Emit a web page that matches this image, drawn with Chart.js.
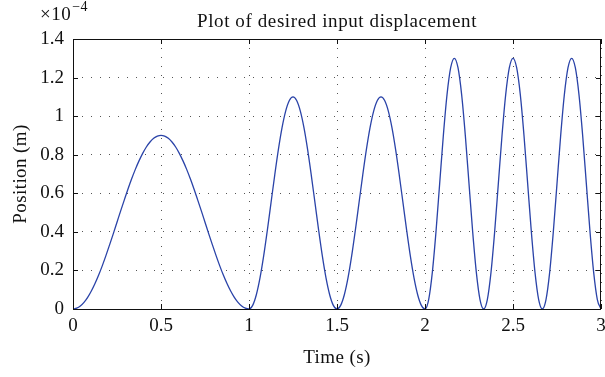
<!DOCTYPE html>
<html>
<head>
<meta charset="utf-8">
<script src="https://cdn.jsdelivr.net/npm/chart.js@4/dist/chart.umd.min.js"></script>
<style>
  html, body { margin: 0; padding: 0; background: #fff; }
  #wrap { width: 605px; height: 377px; position: relative; }
</style>
</head>
<body>
<div id="wrap"><canvas id="c" width="605" height="377"></canvas></div>
<script>
// Desired input displacement, in units of 1e-4 m, sampled every 1/48 s.
// 0–1 s: single hump
const displacementSeg1 = [
  0, 0.004, 0.015, 0.034, 0.060, 0.093, 0.132, 0.176, 0.225, 0.278, 0.334, 0.391,
  0.45, 0.509, 0.566, 0.622, 0.675, 0.724, 0.768, 0.807, 0.840, 0.866, 0.885, 0.896,
  0.9, 0.896, 0.885, 0.866, 0.840, 0.807, 0.768, 0.724, 0.675, 0.622, 0.566, 0.509,
  0.45, 0.391, 0.334, 0.278, 0.225, 0.176, 0.132, 0.093, 0.060, 0.034, 0.015, 0.004, 0
];
// 1–2 s: two humps
const displacementSeg2 = [
  0, 0.019, 0.074, 0.161, 0.275, 0.408, 0.55, 0.692, 0.825, 0.939, 1.026, 1.081,
  1.1, 1.081, 1.026, 0.939, 0.825, 0.692, 0.55, 0.408, 0.275, 0.161, 0.074, 0.019,
  0, 0.019, 0.074, 0.161, 0.275, 0.408, 0.55, 0.692, 0.825, 0.939, 1.026, 1.081,
  1.1, 1.081, 1.026, 0.939, 0.825, 0.692, 0.55, 0.408, 0.275, 0.161, 0.074, 0.019, 0
];
// 2–3 s: three humps
const displacementSeg3 = [
  0, 0.049, 0.190, 0.401, 0.65, 0.899, 1.110, 1.251, 1.3, 1.251, 1.110, 0.899, 0.65, 0.401, 0.190, 0.049,
  0, 0.049, 0.190, 0.401, 0.65, 0.899, 1.110, 1.251, 1.3, 1.251, 1.110, 0.899, 0.65, 0.401, 0.190, 0.049,
  0, 0.049, 0.190, 0.401, 0.65, 0.899, 1.110, 1.251, 1.3, 1.251, 1.110, 0.899, 0.65, 0.401, 0.190, 0.049, 0
];
const samplesPerSecond = 48;

const xTicks = [0, 0.5, 1, 1.5, 2, 2.5, 3];
const yTicks = [0, 0.2, 0.4, 0.6, 0.8, 1, 1.2, 1.4];

const titleText = 'Plot of desired input displacement';
const xLabel = 'Time (s)';
const yLabel = 'Position (m)';

const values = displacementSeg1.concat(displacementSeg2.slice(1), displacementSeg3.slice(1));
const points = values.map((v, i) => ({ x: i / samplesPerSecond, y: v }));

const FONT = '"Liberation Serif", "DejaVu Serif", serif';
const INK = '#111';

// Draws the frame, inward tick marks, title, axis titles and exponent label.
const decorations = {
  id: 'decorations',
  afterDraw(chart) {
    const { ctx, chartArea: a, scales } = chart;
    ctx.save();
    ctx.strokeStyle = INK;
    ctx.lineWidth = 1;
    // box
    ctx.strokeRect(Math.round(a.left) + 0.5, Math.round(a.top) + 0.5,
                   Math.round(a.right - a.left) - 1, Math.round(a.bottom - a.top));
    // inward ticks
    const tl = 5;
    ctx.beginPath();
    xTicks.forEach(t => {
      const x = Math.round(scales.x.getPixelForValue(t)) + 0.5;
      ctx.moveTo(x, a.bottom); ctx.lineTo(x, a.bottom - tl);
      ctx.moveTo(x, a.top); ctx.lineTo(x, a.top + tl);
    });
    yTicks.forEach(t => {
      const y = Math.round(scales.y.getPixelForValue(t)) + 0.5;
      ctx.moveTo(a.left, y); ctx.lineTo(a.left + tl, y);
      ctx.moveTo(a.right, y); ctx.lineTo(a.right - tl, y);
    });
    ctx.stroke();

    ctx.fillStyle = INK;
    const cx = (a.left + a.right) / 2;
    // title
    ctx.font = '19px ' + FONT;
    ctx.letterSpacing = '0.6px';
    ctx.textAlign = 'center';
    ctx.textBaseline = 'alphabetic';
    ctx.fillText(titleText, cx, 27);
    // x axis title
    ctx.font = '19px ' + FONT;
    ctx.letterSpacing = '0.4px';
    ctx.fillText(xLabel, cx, 363);
    // y axis title
    ctx.save();
    ctx.translate(26, (a.top + a.bottom) / 2);
    ctx.rotate(-Math.PI / 2);
    ctx.fillText(yLabel, 0, 0);
    ctx.restore();
    // exponent label
    ctx.letterSpacing = '0.5px';
    ctx.textAlign = 'left';
    ctx.font = '19px ' + FONT;
    ctx.fillText('\u00d710', 40, 20);
    const w = ctx.measureText('\u00d710').width;
    ctx.font = '14px ' + FONT;
    ctx.fillText('\u22124', 40 + w + 1, 11);
    ctx.restore();
  }
};

new Chart(document.getElementById('c'), {
  type: 'scatter',
  data: {
    datasets: [{
      data: points,
      showLine: true,
      borderColor: '#2a43a8',
      borderWidth: 1.3,
      pointRadius: 0,
      cubicInterpolationMode: 'monotone',
      fill: false
    }]
  },
  options: {
    responsive: false,
    animation: false,
    devicePixelRatio: 1,
    layout: { padding: { left: 0, right: 4, top: 39, bottom: 0 } },
    plugins: { legend: { display: false }, tooltip: { enabled: false } },
    scales: {
      x: {
        type: 'linear',
        min: 0, max: 3,
        afterBuildTicks: s => { s.ticks = xTicks.map(v => ({ value: v })); },
        afterFit: s => { s.height = 68; s.paddingLeft = 0; s.paddingRight = 0; },
        grid: { color: '#555', lineWidth: 1, drawTicks: false },
        border: { display: false, dash: [1, 8] },
        ticks: {
          color: INK, padding: 6,
          maxRotation: 0,
          font: { family: FONT, size: 19 },
          callback: v => String(v)
        }
      },
      y: {
        type: 'linear',
        min: 0, max: 1.4,
        afterBuildTicks: s => { s.ticks = yTicks.map(v => ({ value: v })); },
        afterFit: s => { s.width = 73; s.paddingTop = 0; s.paddingBottom = 0; },
        grid: { color: '#555', lineWidth: 1, drawTicks: false },
        border: { display: false, dash: [1, 8] },
        ticks: {
          color: INK, padding: 9,
          font: { family: FONT, size: 19 },
          callback: v => String(Math.round(v * 10) / 10)
        }
      }
    }
  },
  plugins: [decorations]
});
</script>
</body>
</html>
